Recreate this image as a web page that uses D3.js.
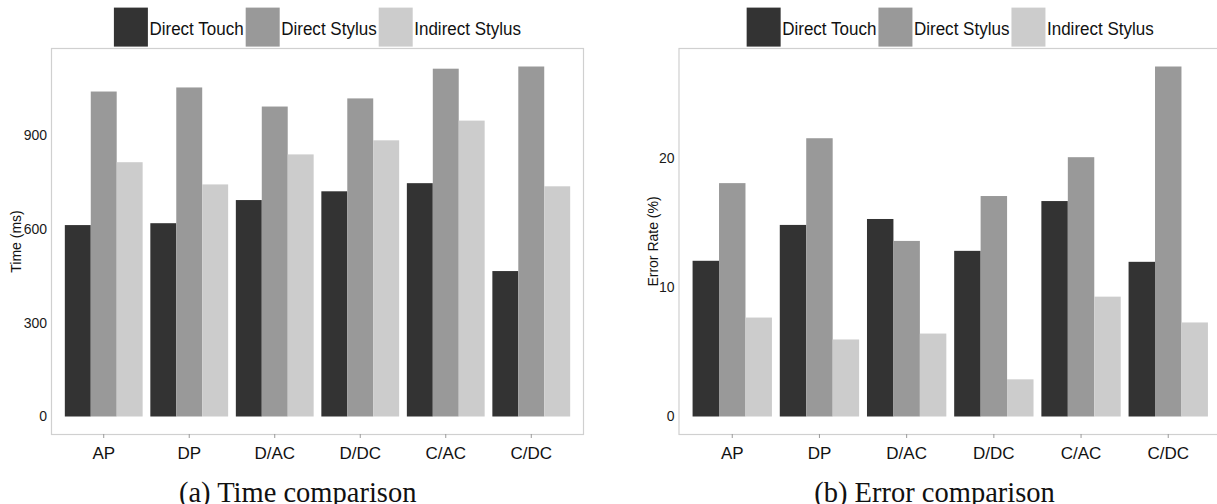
<!DOCTYPE html>
<html>
<head>
<meta charset="utf-8">
<script src="https://cdn.jsdelivr.net/npm/d3@7"></script>
<style>
  html, body { margin: 0; padding: 0; background: #ffffff; }
  svg { display: block; }
</style>
</head>
<body>
<svg id="chart" width="1217" height="504"></svg>
<script>
// Task groups on the x axis
const categories = ["AP", "DP", "D/AC", "D/DC", "C/AC", "C/DC"];
// Input techniques (legend order)
const seriesNames = ["Direct Touch", "Direct Stylus", "Indirect Stylus"];
const seriesColors = ["#333333", "#999999", "#cccccc"];

// Mean completion time (ms)
const timeTouch    = [612, 618, 692, 720, 746, 465];
const timeStylus   = [1039, 1052, 991, 1017, 1112, 1119];
const timeIndirect = [813, 742, 838, 883, 946, 736];
const timeTicks    = [0, 300, 600, 900];

// Error rate (%)
const errorTouch    = [12.07, 14.85, 15.31, 12.84, 16.70, 11.99];
const errorStylus   = [18.09, 21.57, 13.61, 17.09, 20.10, 27.13];
const errorIndirect = [7.67, 5.97, 6.43, 2.88, 9.29, 7.29];
const errorTicks    = [0, 10, 20];

const svg = d3.select("#chart");
const SANS = "Arial, 'Liberation Sans', Helvetica, sans-serif";
const SERIF = "'Liberation Serif', 'Times New Roman', serif";

function drawPanel(cfg) {
  const g = svg.append("g");
  const { left, right, top, bottom } = cfg;

  const values = cfg.series;
  const maxV = d3.max(values.flat());
  // 5% expansion on both ends of the value range
  const y = d3.scaleLinear()
    .domain([-0.05 * maxV, 1.05 * maxV])
    .range([bottom, top]);

  const x0 = d3.scaleBand()
    .domain(categories)
    .range([left, right])
    .paddingInner(0.09)
    .paddingOuter(0.15);

  const x1 = d3.scaleBand()
    .domain(seriesNames)
    .range([0, x0.bandwidth()])
    .padding(0);

  // panel border
  g.append("rect")
    .attr("x", left - 0.5)
    .attr("y", top - 0.5)
    .attr("width", right - left + 1)
    .attr("height", bottom - top + 1)
    .attr("fill", "none")
    .attr("stroke", "#d0d0d0")
    .attr("stroke-width", 1.2);

  // bars
  const rows = categories.map((c, i) => ({
    cat: c,
    vals: seriesNames.map((s, k) => ({ s, k, v: values[k][i] }))
  }));

  g.append("g")
    .selectAll("g")
    .data(rows)
    .join("g")
    .attr("transform", d => `translate(${x0(d.cat)},0)`)
    .selectAll("rect")
    .data(d => d.vals)
    .join("rect")
    .attr("x", d => x1(d.s))
    .attr("width", x1.bandwidth())
    .attr("y", d => y(d.v))
    .attr("height", d => y(0) - y(d.v))
    .attr("fill", d => seriesColors[d.k]);

  // y axis (labels only)
  const yAxis = d3.axisLeft(y)
    .tickValues(cfg.ticks)
    .tickSize(0)
    .tickPadding(5);
  const ya = g.append("g")
    .attr("transform", `translate(${left},0)`)
    .call(yAxis);
  ya.select(".domain").remove();
  ya.selectAll("text")
    .attr("font-family", SANS)
    .attr("font-size", 14)
    .attr("fill", "#1a1a1a");

  // x axis
  const xAxis = d3.axisBottom(x0)
    .tickSize(4)
    .tickPadding(9);
  const xa = g.append("g")
    .attr("transform", `translate(0,${bottom})`)
    .call(xAxis);
  xa.select(".domain").remove();
  xa.selectAll("line").attr("stroke", "#9a9a9a");
  xa.selectAll("text")
    .attr("font-family", SANS)
    .attr("font-size", 17)
    .attr("fill", "#111111");

  // y axis title
  g.append("text")
    .attr("transform", `translate(${cfg.titleX},${(top + bottom) / 2}) rotate(-90)`)
    .attr("text-anchor", "middle")
    .attr("dy", "0.35em")
    .attr("font-family", SANS)
    .attr("font-size", 14)
    .attr("fill", "#111111")
    .text(cfg.yTitle);

  // legend, centred over the plot area
  const squeeze = 0.92;
  const sw = 34, sh = 39, legTop = 7.6, baseY = 34.5;
  const lg = g.append("g");
  const items = seriesNames.map((name, k) => {
    const t = lg.append("text")
      .attr("font-family", SANS)
      .attr("font-size", 18.5)
      .attr("fill", "#111111")
      .text(name);
    return { name, k, t, w: t.node().getComputedTextLength() * squeeze };
  });
  const gapAfterSwatch = 1.5, gapAfterText = 2;
  const total = d3.sum(items, d => sw + gapAfterSwatch + d.w) + gapAfterText * (items.length - 1);
  let cx = (left + right) / 2 - total / 2;
  items.forEach(d => {
    lg.append("rect")
      .attr("x", cx)
      .attr("y", legTop)
      .attr("width", sw)
      .attr("height", sh)
      .attr("fill", seriesColors[d.k]);
    cx += sw + gapAfterSwatch;
    d.t.attr("transform", `translate(${cx},${baseY}) scale(${squeeze},1)`);
    cx += d.w + gapAfterText;
  });

  // caption
  svg.append("text")
    .attr("x", cfg.captionX)
    .attr("y", 501.5)
    .attr("text-anchor", "middle")
    .attr("font-family", SERIF)
    .attr("font-size", 28.5)
    .attr("fill", "#111111")
    .text(cfg.caption);
}

drawPanel({
  left: 52, right: 583, top: 49, bottom: 434,
  series: [timeTouch, timeStylus, timeIndirect],
  ticks: timeTicks,
  yTitle: "Time (ms)",
  titleX: 16.5,
  caption: "(a) Time comparison",
  captionX: 297.7
});

drawPanel({
  left: 679.5, right: 1221, top: 49, bottom: 434,
  series: [errorTouch, errorStylus, errorIndirect],
  ticks: errorTicks,
  yTitle: "Error Rate (%)",
  titleX: 652.7,
  caption: "(b) Error comparison",
  captionX: 934.5
});
</script>
</body>
</html>
